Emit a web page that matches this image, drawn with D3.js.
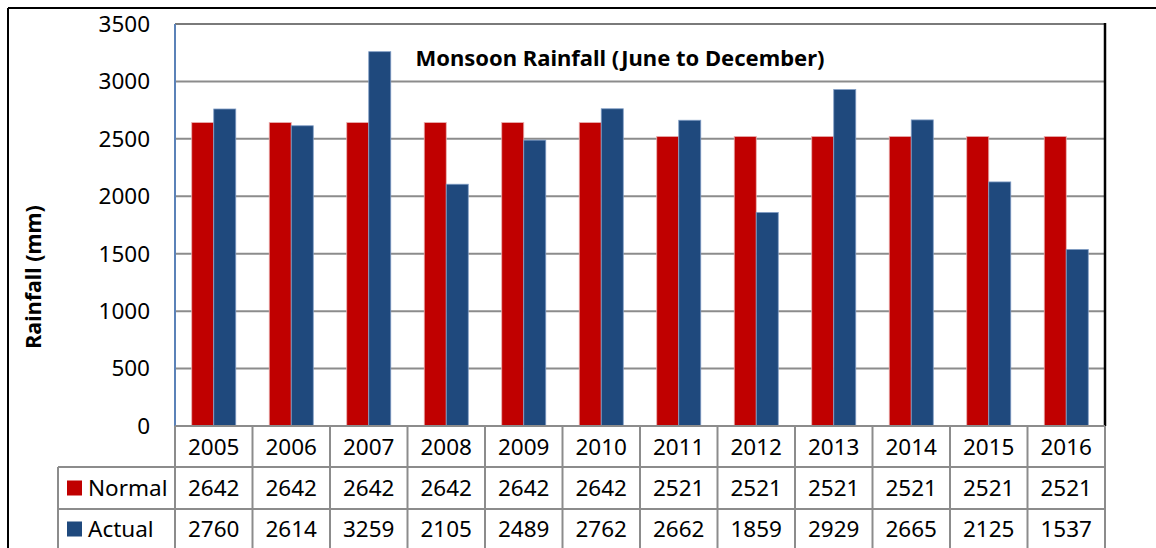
<!DOCTYPE html>
<html>
<head>
<meta charset="utf-8">
<script src="https://cdn.jsdelivr.net/npm/d3@7"></script>
<style>
  body { margin: 0; background: #fff; }
  svg text { font-family: "Noto Sans", "Open Sans", sans-serif; fill: #000; }
</style>
</head>
<body>
<div id="main"></div>
<script>
var years = ["2005","2006","2007","2008","2009","2010","2011","2012","2013","2014","2015","2016"];
var normal = [2642,2642,2642,2642,2642,2642,2521,2521,2521,2521,2521,2521];
var actual = [2760,2614,3259,2105,2489,2762,2662,1859,2929,2665,2125,1537];
var seriesNames = ["Normal","Actual"];
var seriesColors = ["#c00000","#1f497d"];
var yTicks = [0,500,1000,1500,2000,2500,3000,3500];

var W = 1156, H = 548;
var plotL = 175, plotR = 1105, plotT = 24, plotB = 426;
var gridCol = "#8c8c8c";
var fs = "22.5px";

var svg = d3.select('#main')
  .append('svg')
  .attr("width", W)
  .attr("height", H);

// outer frame
svg.append('line').attr("x1", 8).attr("x2", W).attr("y1", 8).attr("y2", 8)
  .style("stroke", "#000").style("stroke-width", 2);
svg.append('line').attr("x1", 8).attr("x2", 8).attr("y1", 8).attr("y2", H)
  .style("stroke", "#000").style("stroke-width", 2);

var x0 = d3.scaleBand().domain(years).range([plotL, plotR]).paddingInner(0.432).paddingOuter(0.216);
var x1 = d3.scaleBand().domain(seriesNames).range([0, x0.bandwidth()]);
var y = d3.scaleLinear().domain([0, 3500]).range([plotB, plotT]);

var step = x0.step();

// gridlines
svg.append('g').selectAll('line')
  .data(yTicks.filter(d => d > 0))
  .enter()
  .append('line')
  .attr("x1", plotL).attr("x2", plotR)
  .attr("y1", d => y(d)).attr("y2", d => y(d))
  .style("stroke", d => d == 3500 ? "#7a7a7a" : gridCol)
  .style("stroke-width", 2);

// bars
var rows = years.map((yr, i) => ({year: yr, vals: [normal[i], actual[i]]}));
var grp = svg.append('g').selectAll('g')
  .data(rows)
  .enter()
  .append('g')
  .attr('transform', d => 'translate(' + x0(d.year) + ',0)');

grp.selectAll('rect')
  .data(d => d.vals.map((v, j) => ({name: seriesNames[j], v: v, j: j})))
  .enter()
  .append('rect')
  .attr('x', d => x1(d.name))
  .attr('y', d => y(d.v))
  .attr('width', x1.bandwidth())
  .attr('height', d => plotB - y(d.v))
  .style('fill', d => seriesColors[d.j])
  .style('stroke', d => d.j == 1 ? "#7f9cc4" : "#e8b0b0")
  .style('stroke-width', 0.8);

// y axis line and right border
svg.append('line').attr("x1", plotL).attr("x2", plotL).attr("y1", plotT).attr("y2", plotB)
  .style("stroke", "#5b82b8").style("stroke-width", 2);
svg.append('line').attr("x1", plotR).attr("x2", plotR).attr("y1", plotT - 1).attr("y2", plotB)
  .style("stroke", "#000").style("stroke-width", 2.5);

// y tick labels
svg.append('g').selectAll('text')
  .data(yTicks)
  .enter()
  .append('text')
  .text(d => d)
  .attr("x", 150)
  .attr("y", d => y(d))
  .attr("dy", "0.35em")
  .attr("text-anchor", "end")
  .style("font-size", fs);

// y axis title
svg.append('text')
  .text("Rainfall (mm)")
  .attr('transform', 'translate(33,277)rotate(-90)')
  .attr("dy", "0.35em")
  .attr("text-anchor", "middle")
  .style("font-size", "21.5px")
  .style("font-weight", "bold");

// chart title
svg.append('text')
  .text("Monsoon Rainfall (June to December)")
  .attr("x", 620)
  .attr("y", 58)
  .attr("dy", "0.35em")
  .attr("text-anchor", "middle")
  .style("font-size", "22px")
  .style("font-weight", "bold");

// data table
var rowY = [plotB, 467, 509];
var tbl = svg.append('g');
tbl.append('line').attr("x1", plotL).attr("x2", plotR).attr("y1", rowY[0]).attr("y2", rowY[0])
  .style("stroke", gridCol).style("stroke-width", 2);
[rowY[1], rowY[2]].forEach(function(yy) {
  tbl.append('line').attr("x1", 58).attr("x2", plotR).attr("y1", yy).attr("y2", yy)
    .style("stroke", gridCol).style("stroke-width", 2);
});
var colEdges = d3.range(years.length + 1).map(i => plotL + i * step);
tbl.selectAll('line.v')
  .data(colEdges)
  .enter()
  .append('line')
  .attr("class", "v")
  .attr("x1", d => d).attr("x2", d => d)
  .attr("y1", rowY[0]).attr("y2", H)
  .style("stroke", gridCol).style("stroke-width", 2);
tbl.append('line').attr("x1", 58).attr("x2", 58).attr("y1", rowY[1]).attr("y2", H)
  .style("stroke", gridCol).style("stroke-width", 2);

// header years
tbl.selectAll('text.yr')
  .data(years)
  .enter()
  .append('text')
  .attr("class", "yr")
  .text(d => d)
  .attr("x", (d, i) => plotL + (i + 0.5) * step)
  .attr("y", 447)
  .attr("dy", "0.35em")
  .attr("text-anchor", "middle")
  .style("font-size", fs);

var tableRows = [normal, actual];
var rowCenters = [488, 529];
tableRows.forEach(function(vals, r) {
  tbl.append('g').selectAll('text')
    .data(vals)
    .enter()
    .append('text')
    .text(d => d)
    .attr("x", (d, i) => plotL + (i + 0.5) * step)
    .attr("y", rowCenters[r])
    .attr("dy", "0.35em")
    .attr("text-anchor", "middle")
    .style("font-size", fs);
  tbl.append('rect')
    .attr("x", 67).attr("y", rowCenters[r] - 7.5)
    .attr("width", 15).attr("height", 15)
    .style("fill", seriesColors[r]);
  tbl.append('text')
    .text(seriesNames[r])
    .attr("x", 88)
    .attr("y", rowCenters[r])
    .attr("dy", "0.35em")
    .style("font-size", fs);
});
</script>
</body>
</html>
